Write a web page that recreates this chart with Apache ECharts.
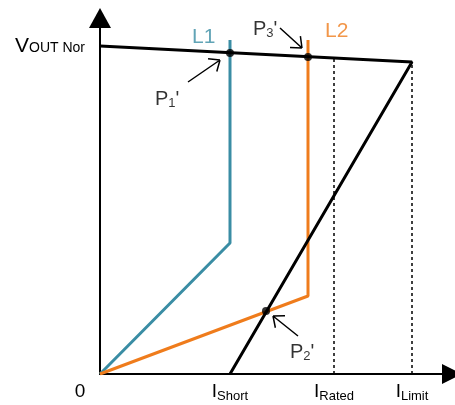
<!DOCTYPE html>
<html>
<head>
<meta charset="utf-8">
<script src="https://cdn.jsdelivr.net/npm/echarts@6/dist/echarts.min.js"></script>
<style>
  html, body { margin: 0; padding: 0; background: #fff; }
  #chart { width: 455px; height: 405px; }
</style>
</head>
<body>
<div id="chart"></div>
<script>
// units: current (x) and voltage (y), arbitrary scale
const iShort = 130
const iRated = 234
const iLimit = 312

const xTicks = [0, iShort, iRated, iLimit]
const xTickNames = ['0', 'Short', 'Rated', 'Limit']
const yTicks = [328]

// source load line: droops from V_OUT Nor to I_Limit, then folds back to I_Short
const sourceLine = [[0, 328], [iLimit, 312], [iShort, 0]]
const lineL1 = [[130, 334], [130, 131], [0, 0]]
const lineL2 = [[208, 334], [208, 78], [0, 0]]

const ratedGuide = [[iRated, 0], [iRated, 315]]
const limitGuide = [[iLimit, 0], [iLimit, 312]]

const crossPoints = [[130, 321], [208, 317], [166, 63]]

// annotation arrows: [from, to]
const pointerArrows = [
  [[88, 292], [120, 314]],
  [[180, 346], [202, 326]],
  [[198, 38], [173, 58]]
]

// text annotations: [x, y, kind, text]
const notes = [
  [92, 337, 'L1', 'L1'],
  [225, 343, 'L2', 'L2'],
  [55, 275, 'P', '1'],
  [153, 345, 'P', '3'],
  [190, 22, 'P', '2']
]

const teal = '#3a8da4'
const orange = '#ef7c1c'
const font = '"Liberation Sans", Arial, sans-serif'

const arrowData = () => {
  const out = []
  const head = 12
  const spread = 40 * Math.PI / 180
  pointerArrows.forEach(([a, b]) => {
    const ang = Math.atan2(a[1] - b[1], a[0] - b[0])
    out.push(a, b, '-')
    ;[spread, -spread].forEach(s => {
      out.push([b[0] + head * Math.cos(ang + s), b[1] + head * Math.sin(ang + s)], b, '-')
    })
  })
  return out
}

const chart = echarts.init(document.getElementById('chart'))

chart.setOption({
  animation: false,
  textStyle: { fontFamily: font },
  grid: { left: 100, right: 3, top: 18, bottom: 31 },
  xAxis: {
    type: 'value',
    min: 0,
    max: 352,
    splitLine: { show: false },
    axisTick: { show: false },
    axisLine: {
      onZero: false,
      symbol: ['none', 'triangle'],
      symbolSize: [20, 20],
      lineStyle: { color: '#000', width: 2 }
    },
    axisLabel: {
      customValues: xTicks,
      margin: 8,
      formatter: v => {
        const i = xTicks.indexOf(v)
        return i === 0 ? '{z|0}' : '{i|I}{s|' + xTickNames[i] + '}'
      },
      rich: {
        z: { fontSize: 19, color: '#000', padding: [0, 40, 0, 0], fontFamily: font },
        i: { fontSize: 19, color: '#000', verticalAlign: 'top', lineHeight: 19, fontFamily: font },
        s: { fontSize: 13, color: '#000', verticalAlign: 'top', lineHeight: 13, padding: [8, 0, 0, 0], fontFamily: font }
      }
    }
  },
  yAxis: {
    type: 'value',
    min: 0,
    max: 356,
    splitLine: { show: false },
    axisTick: { show: false },
    axisLine: {
      onZero: false,
      symbol: ['none', 'triangle'],
      symbolSize: [22, 20],
      lineStyle: { color: '#000', width: 2 }
    },
    axisLabel: {
      customValues: yTicks,
      margin: 15,
      formatter: () => '{v|V}{s|OUT Nor}',
      rich: {
        v: { fontSize: 21, color: '#000', verticalAlign: 'top', lineHeight: 21, fontFamily: font },
        s: { fontSize: 14, color: '#000', verticalAlign: 'top', lineHeight: 14, padding: [6, 0, 0, 0], fontFamily: font }
      }
    }
  },
  series: [
    {
      type: 'line', data: ratedGuide, symbol: 'none',
      lineStyle: { color: '#000', width: 1.5, type: [3, 3] }
    },
    {
      type: 'line', data: limitGuide, symbol: 'none',
      lineStyle: { color: '#000', width: 1.5, type: [3, 3] }
    },
    { type: 'line', data: lineL1, symbol: 'none', lineStyle: { color: teal, width: 3 } },
    { type: 'line', data: lineL2, symbol: 'none', lineStyle: { color: orange, width: 3 } },
    { type: 'line', data: sourceLine, symbol: 'none', lineStyle: { color: '#000', width: 3 } },
    {
      type: 'line', data: arrowData(), symbol: 'none', connectNulls: false,
      lineStyle: { color: '#000', width: 1.5 }
    },
    {
      type: 'scatter', data: crossPoints, symbolSize: 8, z: 5,
      itemStyle: { color: '#000' }
    },
    {
      type: 'scatter',
      data: notes.map(n => ({ value: [n[0], n[1]], kind: n[2], text: n[3] })),
      symbolSize: 0,
      label: {
        show: true,
        position: 'inside',
        align: 'left',
        verticalAlign: 'middle',
        formatter: p => p.data.kind === 'P'
          ? '{p|P}{s|' + p.data.text + '}{p|\'}'
          : '{' + p.data.kind + '|' + p.data.text + '}',
        rich: {
          p: { fontSize: 20, color: '#000', verticalAlign: 'top', lineHeight: 20, fontFamily: font },
          s: { fontSize: 13, color: '#000', verticalAlign: 'top', lineHeight: 13, padding: [8, 0, 0, 0], fontFamily: font },
          L1: { fontSize: 21, color: teal, fontFamily: font },
          L2: { fontSize: 21, color: orange, fontFamily: font }
        }
      }
    }
  ]
})
</script>
</body>
</html>
